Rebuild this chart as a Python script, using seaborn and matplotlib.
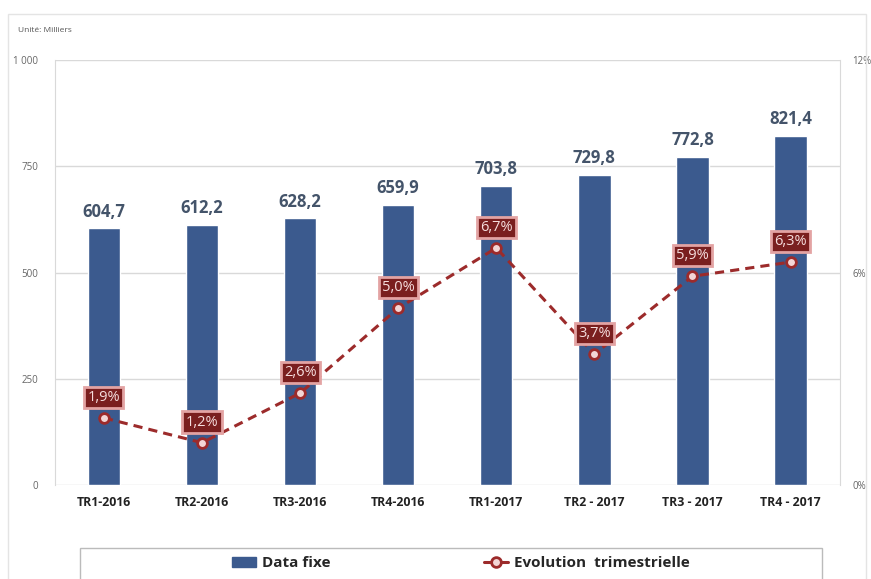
import matplotlib
matplotlib.use("Agg")
import pandas as pd
import seaborn as sns
import matplotlib.pyplot as plt
from matplotlib.lines import Line2D
from matplotlib.patches import Patch, Rectangle

# Chart data
quarters = ["TR1-2016", "TR2-2016", "TR3-2016", "TR4-2016",
            "TR1-2017", "TR2 - 2017", "TR3 - 2017", "TR4 - 2017"]
data_fixe = [604.7, 612.2, 628.2, 659.9, 703.8, 729.8, 772.8, 821.4]
evolution = [1.9, 1.2, 2.6, 5.0, 6.7, 3.7, 5.9, 6.3]
left_ticks = [0, 250, 500, 750, 1000]
left_tick_labels = ["0", "250", "500", "750", "1 000"]
right_ticks = [0, 6, 12]
right_tick_labels = ["0%", "6%", "12%"]

df = pd.DataFrame({"quarter": quarters, "data": data_fixe, "evol": evolution})

bar_color = "#3B5A8E"
line_color = "#9C2B2B"

sns.set_style("white")
plt.rcParams["font.family"] = ["Open Sans", "DejaVu Sans"]

fig = plt.figure(figsize=(8.71, 5.79), dpi=100)
ax = fig.add_axes([0.063, 0.162, 0.901, 0.734])

# outer frame of the chart
fig.patches.append(Rectangle((0.009, -0.05), 0.985, 1.026, transform=fig.transFigure,
                             fill=False, edgecolor="#e4e4e4", linewidth=1))
fig.text(0.021, 0.945, "Unité: Milliers", fontsize=6, color="#555555")

sns.barplot(data=df, x="quarter", y="data", color=bar_color, width=0.33,
            saturation=1, ax=ax, zorder=2)
ax.set_ylim(0, 1000)
ax.set_xlim(-0.5, 7.5)
ax.set_yticks(left_ticks)
ax.set_yticklabels(left_tick_labels, fontsize=7, color="#666666")
ax.grid(axis="y", color="#d9d9d9", linewidth=1, zorder=0)
ax.set_xlabel("")
ax.set_ylabel("")
ax.tick_params(axis="x", length=0, pad=8)
ax.tick_params(axis="y", length=0, pad=12)
for lbl in ax.get_xticklabels():
    lbl.set_fontsize(8.8)
    lbl.set_fontweight("bold")
    lbl.set_color("#222222")
for sp in ["top", "bottom"]:
    ax.spines[sp].set_visible(False)
for sp in ["left", "right"]:
    ax.spines[sp].set_color("#d9d9d9")

for i, v in enumerate(data_fixe):
    ax.text(i, v + 18, f"{v:.1f}".replace(".", ","), ha="center", va="bottom",
            fontsize=12, fontweight="bold", color="#44546A")

ax2 = ax.twinx()
sns.lineplot(data=df, x="quarter", y="evol", ax=ax2, color=line_color,
             linestyle=(0, (3, 2)), linewidth=2.2, marker="o", markersize=7,
             markerfacecolor="#f3d6d6", markeredgecolor=line_color,
             markeredgewidth=2, sort=False)
ax2.set_ylim(0, 12)
ax2.set_yticks(right_ticks)
ax2.set_yticklabels(right_tick_labels, fontsize=7, color="#666666")
ax2.tick_params(axis="y", length=0, pad=9)
ax2.set_ylabel("")
for sp in ax2.spines.values():
    sp.set_visible(False)

for i, v in enumerate(evolution):
    ax2.text(i, v + 0.58, f"{v:.1f}%".replace(".", ","), ha="center", va="center",
             fontsize=10.5, color="#f6dede",
             bbox=dict(boxstyle="square,pad=0.22", facecolor="#7A1F1F",
                       edgecolor="#e3a3a3", linewidth=2))

# legend box spanning the chart width
fig.patches.append(Rectangle((0.092, -0.05), 0.852, 0.103, transform=fig.transFigure,
                             fill=False, edgecolor="#bbbbbb", linewidth=1))
handles = [Patch(facecolor=bar_color, edgecolor=bar_color),
           Line2D([], [], color=line_color, linewidth=2.2, marker="o", markersize=7,
                  markerfacecolor="#f3d6d6", markeredgecolor=line_color, markeredgewidth=2)]
fig.legend(handles, ["Data fixe", "Evolution  trimestrielle"], loc="center",
           bbox_to_anchor=(0.529, 0.027), ncol=2, frameon=False,
           columnspacing=10, handlelength=1.6, handletextpad=0.4,
           prop={"size": 11, "weight": "bold"})

fig.savefig("out.png", dpi=100)
